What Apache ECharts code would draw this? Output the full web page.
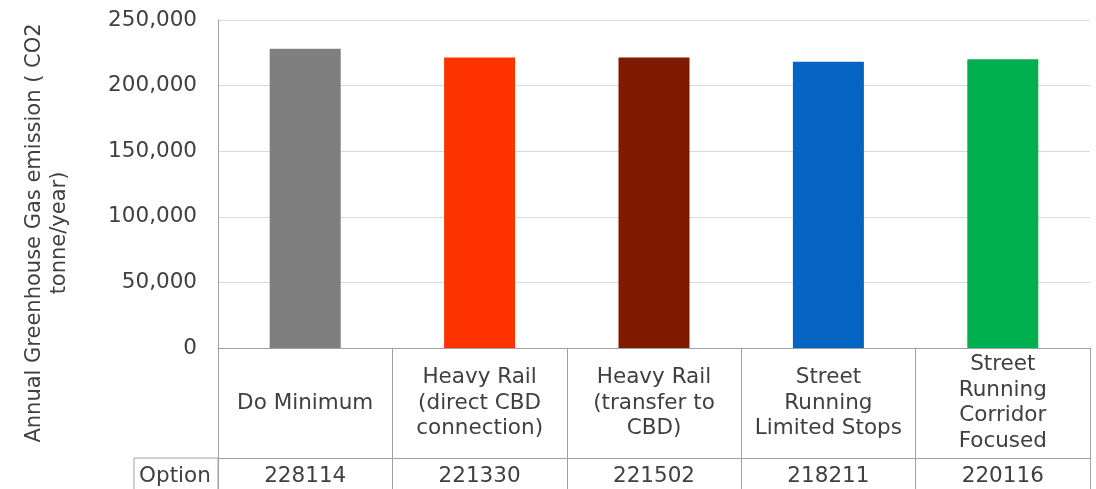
<!DOCTYPE html>
<html>
<head>
<meta charset="utf-8">
<script src="https://cdn.jsdelivr.net/npm/echarts@6/dist/echarts.min.js"></script>
<style>
html,body{margin:0;padding:0;background:#fff;}
#chart{width:1096px;height:489px;}
</style>
</head>
<body>
<div id="chart"></div>
<script>
var categories = ['Do Minimum', 'Heavy Rail\n(direct CBD\nconnection)', 'Heavy Rail\n(transfer to\nCBD)', 'Street\nRunning\nLimited Stops', 'Street\nRunning\nCorridor\nFocused'];
var values = [228114, 221330, 221502, 218211, 220116];
var barColors = ['#7f7f7f', '#ff3300', '#7f1a00', '#0563c1', '#00b050'];
var seriesName = 'Option';
var yTitle = 'Annual Greenhouse Gas emission ( CO2\ntonne/year)';

var FONT = 'DejaVu Sans';
var TXT = '#404040';
var LINE = '#a0a0a0';
var FS = 21.5;

var chart = echarts.init(document.getElementById('chart'), null, {renderer: 'canvas'});
chart.setOption({
  animation: false,
  textStyle: {fontFamily: FONT},
  grid: {left: 218, right: 6, top: 20, bottom: 141, containLabel: false},
  xAxis: [{
    type: 'category',
    data: categories,
    position: 'bottom',
    axisLine: {show: true, lineStyle: {color: LINE, width: 1}},
    axisTick: {show: true, length: 141, interval: 0, lineStyle: {color: LINE, width: 1}},
    axisLabel: {
      interval: 0, color: TXT, fontSize: FS, fontFamily: FONT,
      lineHeight: 25.7, align: 'center', verticalAlign: 'middle', margin: 55
    }
  }, {
    type: 'category',
    data: categories,
    position: 'bottom',
    offset: 110,
    axisLine: {show: true, lineStyle: {color: LINE, width: 1}},
    axisTick: {show: false},
    axisLabel: {
      interval: 0, color: TXT, fontSize: FS, fontFamily: FONT,
      verticalAlign: 'middle', margin: 18,
      formatter: function (v, i) { return String(values[i]); }
    }
  }],
  yAxis: {
    type: 'value',
    min: 0, max: 250000, interval: 50000,
    axisLine: {show: true, lineStyle: {color: LINE, width: 1}},
    axisTick: {show: false},
    splitLine: {lineStyle: {color: '#d9d9d9', width: 1}},
    axisLabel: {
      color: TXT, fontSize: FS, fontFamily: FONT, margin: 21,
      formatter: function (v) { return v.toLocaleString('en-US'); }
    }
  },
  series: [{
    name: seriesName,
    type: 'bar',
    xAxisIndex: 0,
    data: values.map(function (v, i) { return {value: v, itemStyle: {color: barColors[i]}}; }),
    barWidth: 71
  }],
  graphic: [
    {type: 'rect', shape: {x: 134, y: 458, width: 84, height: 40}, style: {fill: 'none', stroke: LINE, lineWidth: 1}},
    {type: 'text', x: 175, y: 476, style: {text: seriesName, fill: TXT, font: FS + 'px "' + FONT + '"', textAlign: 'center', textVerticalAlign: 'middle'}},
    {type: 'text', x: 47, y: 233, rotation: Math.PI / 2, style: {text: yTitle, fill: TXT, font: '21px "' + FONT + '"', lineHeight: 25, textAlign: 'center', textVerticalAlign: 'middle'}}
  ]
});
</script>
</body>
</html>
